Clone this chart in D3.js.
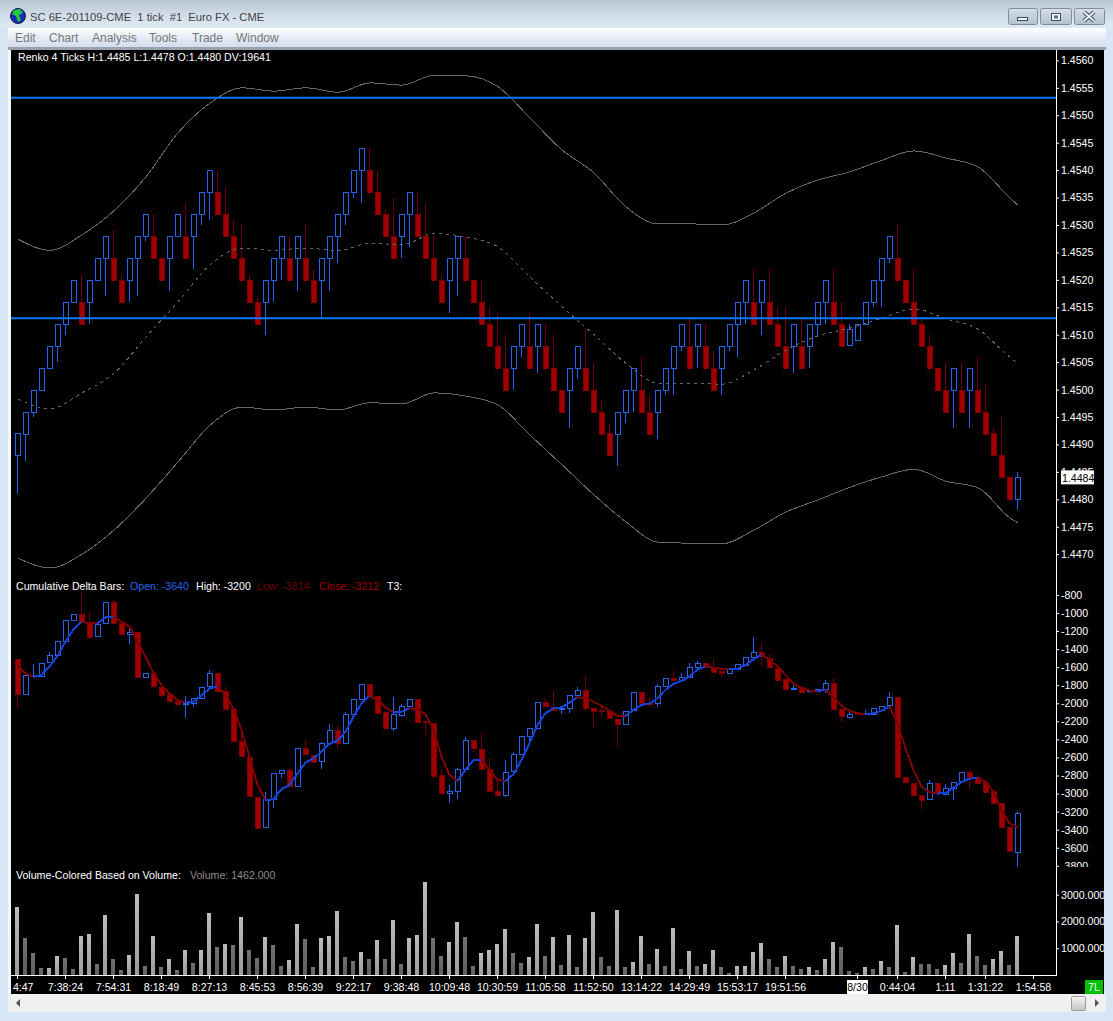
<!DOCTYPE html>
<html>
<head>
<meta charset="utf-8">
<script src="https://cdn.jsdelivr.net/npm/d3@7"></script>
<style>
  html, body { margin: 0; padding: 0; background: #d6e6f4; }
  svg { display: block; }
  text { font-family: "Liberation Sans", Arial, sans-serif; font-size: 10.6px; white-space: pre; }
</style>
</head>
<body>
<svg id="chart"></svg>
<script>
// renko 4 ticks, one entry per bar
const priceOpen = [
  1.4488,1.4492,1.4496,1.4500,1.4504,1.4508,1.4512,1.4516,1.4516,1.4516,
  1.4520,1.4524,1.4524,1.4520,1.4520,1.4524,1.4528,1.4528,1.4524,1.4524,
  1.4528,1.4528,1.4528,1.4532,1.4536,1.4536,1.4532,1.4528,1.4524,1.4520,
  1.4516,1.4516,1.4520,1.4524,1.4524,1.4524,1.4524,1.4520,1.4520,1.4524,
  1.4528,1.4532,1.4536,1.4540,1.4540,1.4536,1.4532,1.4528,1.4528,1.4532,
  1.4532,1.4528,1.4524,1.4520,1.4520,1.4524,1.4524,1.4520,1.4516,1.4512,
  1.4508,1.4504,1.4504,1.4508,1.4508,1.4508,1.4508,1.4504,1.4500,1.4500,
  1.4504,1.4504,1.4500,1.4496,1.4492,1.4492,1.4496,1.4500,1.4500,1.4496,
  1.4496,1.4500,1.4504,1.4508,1.4508,1.4508,1.4508,1.4504,1.4504,1.4508,
  1.4512,1.4516,1.4516,1.4516,1.4516,1.4512,1.4508,1.4508,1.4508,1.4508,
  1.4512,1.4516,1.4516,1.4512,1.4508,1.4509,1.4512,1.4516,1.4520,1.4524,
  1.4524,1.4520,1.4516,1.4512,1.4508,1.4504,1.4500,1.4500,1.4500,1.4500,
  1.4500,1.4496,1.4492,1.4488,1.4484,1.4480
];
const priceClose = [
  1.4492,1.4496,1.4500,1.4504,1.4508,1.4512,1.4516,1.4520,1.4512,1.4520,
  1.4524,1.4528,1.4520,1.4516,1.4524,1.4528,1.4532,1.4524,1.4520,1.4528,
  1.4532,1.4524,1.4532,1.4536,1.4540,1.4532,1.4528,1.4524,1.4520,1.4516,
  1.4512,1.4520,1.4524,1.4528,1.4520,1.4528,1.4520,1.4516,1.4524,1.4528,
  1.4532,1.4536,1.4540,1.4544,1.4536,1.4532,1.4528,1.4524,1.4532,1.4536,
  1.4528,1.4524,1.4520,1.4516,1.4524,1.4528,1.4520,1.4516,1.4512,1.4508,
  1.4504,1.4500,1.4508,1.4512,1.4504,1.4512,1.4504,1.4500,1.4496,1.4504,
  1.4508,1.4500,1.4496,1.4492,1.4488,1.4496,1.4500,1.4504,1.4496,1.4492,
  1.4500,1.4504,1.4508,1.4512,1.4504,1.4512,1.4504,1.4500,1.4508,1.4512,
  1.4516,1.4520,1.4512,1.4520,1.4512,1.4508,1.4504,1.4512,1.4504,1.4512,
  1.4516,1.4520,1.4512,1.4508,1.4511,1.4512,1.4516,1.4520,1.4524,1.4528,
  1.4520,1.4516,1.4512,1.4508,1.4504,1.4500,1.4496,1.4504,1.4496,1.4504,
  1.4496,1.4492,1.4488,1.4484,1.4480,1.4484
];
const priceHigh = [
  1.4492,1.4496,1.4500,1.4504,1.4508,1.4512,1.4516,1.4520,1.4521,1.4520,
  1.4524,1.4528,1.4529,1.4521,1.4524,1.4528,1.4532,1.4532,1.4524,1.4528,
  1.4532,1.4534,1.4532,1.4536,1.4540,1.4540,1.4537,1.4531,1.4530,1.4521,
  1.4517,1.4520,1.4524,1.4528,1.4528,1.4528,1.4530,1.4522,1.4524,1.4528,
  1.4532,1.4536,1.4540,1.4544,1.4544,1.4540,1.4533,1.4535,1.4532,1.4536,
  1.4536,1.4534,1.4528,1.4521,1.4524,1.4528,1.4528,1.4520,1.4520,1.4515,
  1.4514,1.4510,1.4508,1.4512,1.4514,1.4512,1.4512,1.4510,1.4500,1.4504,
  1.4508,1.4511,1.4505,1.4498,1.4494,1.4496,1.4500,1.4504,1.4506,1.4499,
  1.4500,1.4504,1.4508,1.4512,1.4513,1.4512,1.4512,1.4507,1.4508,1.4512,
  1.4516,1.4520,1.4522,1.4520,1.4522,1.4515,1.4515,1.4512,1.4513,1.4512,
  1.4516,1.4520,1.4522,1.4516,1.4512,1.4512,1.4516,1.4520,1.4524,1.4528,
  1.4530,1.4520,1.4522,1.4513,1.4510,1.4504,1.4505,1.4504,1.4505,1.4504,
  1.4506,1.4501,1.4493,1.4495,1.4484,1.4485
];
const priceLow = [
  1.4481,1.4487,1.4495,1.4500,1.4504,1.4505,1.4510,1.4516,1.4512,1.4512,
  1.4520,1.4517,1.4520,1.4516,1.4516,1.4517,1.4527,1.4524,1.4520,1.4518,
  1.4528,1.4524,1.4522,1.4530,1.4531,1.4532,1.4528,1.4524,1.4520,1.4516,
  1.4512,1.4510,1.4516,1.4520,1.4520,1.4518,1.4520,1.4516,1.4513,1.4518,
  1.4523,1.4530,1.4535,1.4534,1.4536,1.4532,1.4528,1.4524,1.4524,1.4526,
  1.4528,1.4524,1.4520,1.4516,1.4514,1.4517,1.4520,1.4516,1.4512,1.4508,
  1.4504,1.4500,1.4500,1.4506,1.4504,1.4503,1.4504,1.4500,1.4496,1.4493,
  1.4502,1.4500,1.4496,1.4492,1.4488,1.4486,1.4494,1.4496,1.4496,1.4492,
  1.4491,1.4499,1.4499,1.4507,1.4504,1.4504,1.4504,1.4500,1.4499,1.4507,
  1.4506,1.4512,1.4512,1.4510,1.4512,1.4508,1.4504,1.4503,1.4504,1.4504,
  1.4510,1.4512,1.4512,1.4508,1.4508,1.4509,1.4512,1.4515,1.4515,1.4523,
  1.4520,1.4516,1.4512,1.4508,1.4504,1.4500,1.4496,1.4493,1.4496,1.4493,
  1.4496,1.4492,1.4488,1.4484,1.4480,1.4478
];

// price bands, read every 4th bar
const bandBars = [0,4,8,12,16,20,24,28,32,36,40,44,48,52,56,60,64,68,72,76,80,84,88,92,96,100,104,108,112,116,120,124,125];
const bandUpper = [
  1.45274,1.45254,1.45282,1.45326,1.45388,1.45468,1.45522,1.45550,1.45544,1.45550,1.45542,
  1.45559,1.45555,1.45573,1.45572,1.45552,1.45495,1.45437,1.45395,1.45333,1.45302,1.45302,
  1.45300,1.45322,1.45358,1.45382,1.45397,1.45418,1.45435,1.45422,1.45406,1.45349,1.45336
];
const bandMiddle = [
  1.44983,1.44965,1.44994,1.45030,1.45096,1.45160,1.45227,1.45258,1.45254,1.45258,1.45253,
  1.45267,1.45264,1.45284,1.45278,1.45260,1.45205,1.45151,1.45100,1.45048,1.45012,1.45012,
  1.45010,1.45036,1.45072,1.45098,1.45112,1.45130,1.45147,1.45129,1.45110,1.45059,1.45048
];
const bandLower = [
  1.44693,1.44675,1.44700,1.44744,1.44802,1.44868,1.44935,1.44968,1.44963,1.44968,1.44963,
  1.44976,1.44974,1.44994,1.44988,1.44972,1.44917,1.44863,1.44808,1.44759,1.44722,1.44720,
  1.44719,1.44744,1.44777,1.44799,1.44822,1.44841,1.44855,1.44833,1.44821,1.44766,1.44757
];
const levelLines = [1.45532, 1.45130];

// cumulative delta
const deltaOpen = [
  -1514,-1905,-1695,-1691,-1551,-1470,-1315,-1082,-1016,-1097,-1263,-1115,-883,-1115,-1237,-1215,
  -1713,-1669,-1817,-1898,-1972,-2001,-1994,-1938,-1817,-1669,-1868,-2067,-2422,-2599,-3034,-3377,
  -3064,-2776,-2743,-2916,-2499,-2569,-2643,-2444,-2300,-2444,-2123,-1957,-1790,-1916,-2100,-2281,
  -2122,-2026,-1949,-2200,-2214,-2798,-2997,-2975,-2731,-2410,-2502,-2724,-2967,-3012,-2757,-2565,
  -2366,-2277,-1989,-2037,-2067,-2056,-1912,-1857,-2056,-2074,-2089,-2170,-2222,-2082,-1879,-1996,
  -2001,-1812,-1724,-1746,-1713,-1602,-1558,-1606,-1643,-1668,-1624,-1576,-1484,-1429,-1502,-1606,
  -1735,-1846,-1816,-1860,-1868,-1846,-1779,-2067,-2148,-2096,-2122,-2115,-2067,-2026,-1934,-2820,
  -2879,-3012,-3063,-2886,-2997,-2934,-2868,-2764,-2820,-2868,-2975,-3108,-3373,-3640
];
const deltaClose = [
  -1905,-1691,-1690,-1551,-1470,-1315,-1082,-1016,-1097,-1263,-1126,-883,-1115,-1237,-1215,-1713,
  -1669,-1817,-1905,-1972,-2001,-1994,-1938,-1817,-1669,-1868,-2067,-2422,-2591,-3034,-3377,-3064,
  -2776,-2743,-2916,-2499,-2569,-2643,-2444,-2300,-2444,-2123,-1957,-1791,-1916,-2100,-2281,-2122,
  -2026,-1949,-2200,-2214,-2798,-2997,-2975,-2731,-2410,-2502,-2724,-2967,-3012,-2757,-2565,-2366,
  -2277,-1989,-2037,-2074,-2052,-1912,-1857,-2056,-2089,-2078,-2170,-2222,-2082,-1879,-2001,-2001,
  -1812,-1724,-1746,-1713,-1602,-1558,-1602,-1646,-1668,-1624,-1569,-1484,-1429,-1477,-1606,-1735,
  -1846,-1831,-1868,-1856,-1846,-1779,-2067,-2148,-2115,-2122,-2111,-2048,-2026,-1934,-2820,-2879,
  -3012,-3071,-2886,-2997,-2934,-2868,-2764,-2820,-2886,-2975,-3108,-3373,-3640,-3212
];
const deltaHigh = [
  -1514,-1691,-1569,-1551,-1436,-1315,-1082,-1016,-783,-994,-1126,-883,-857,-1115,-1182,-1215,
  -1669,-1669,-1817,-1898,-1972,-1920,-1938,-1817,-1632,-1669,-1817,-2067,-2315,-2599,-3034,-2983,
  -2776,-2743,-2709,-2499,-2407,-2569,-2429,-2230,-2252,-2101,-1957,-1791,-1790,-1916,-2100,-1934,
  -2008,-1949,-1949,-2200,-2214,-2731,-2908,-2720,-2377,-2410,-2333,-2609,-2842,-2628,-2539,-2366,
  -2277,-1989,-1945,-1853,-2052,-1912,-1823,-1698,-2056,-2030,-2089,-2170,-2082,-1879,-1879,-1945,
  -1790,-1724,-1643,-1668,-1554,-1532,-1558,-1513,-1643,-1624,-1569,-1484,-1270,-1336,-1454,-1606,
  -1735,-1798,-1816,-1856,-1846,-1742,-1716,-2067,-2082,-2096,-2074,-2048,-2026,-1875,-1934,-2820,
  -2879,-3012,-2853,-2886,-2897,-2868,-2764,-2739,-2794,-2855,-2975,-3108,-3373,-3200
];
const deltaLow = [
  -2056,-1905,-1724,-1691,-1551,-1470,-1315,-1082,-1097,-1293,-1263,-1115,-1115,-1237,-1348,-1713,
  -1713,-1828,-1927,-1994,-2001,-2160,-2038,-1938,-1824,-1868,-2067,-2422,-2591,-3034,-3377,-3377,
  -3156,-2828,-2916,-2916,-2569,-2643,-2728,-2444,-2507,-2444,-2123,-1957,-1916,-2100,-2281,-2303,
  -2148,-2026,-2200,-2351,-2834,-2997,-3100,-3060,-2731,-2536,-2724,-2967,-3012,-3034,-2757,-2565,
  -2473,-2277,-2037,-2074,-2119,-2104,-1912,-2082,-2259,-2155,-2170,-2488,-2222,-2082,-2001,-2045,
  -2045,-1812,-1746,-1746,-1713,-1602,-1602,-1661,-1705,-1668,-1624,-1576,-1484,-1584,-1606,-1735,
  -1846,-1846,-1868,-1890,-1868,-1882,-2067,-2203,-2148,-2122,-2122,-2115,-2067,-2026,-2820,-2879,
  -3012,-3167,-3063,-2997,-2997,-3071,-2868,-2960,-2886,-2975,-3108,-3373,-3640,-3814
];
const deltaT3 = [
  -1577,-1669,-1706,-1687,-1595,-1477,-1318,-1182,-1097,-1115,-1115,-1049,-1042,-1097,-1152,-1318,
  -1484,-1662,-1798,-1890,-1964,-1994,-1983,-1916,-1835,-1817,-1909,-2056,-2296,-2591,-2905,-3071,
  -3064,-2949,-2905,-2776,-2658,-2610,-2536,-2451,-2414,-2315,-2149,-2001,-1920,-1964,-2045,-2100,
  -2093,-2056,-2067,-2122,-2296,-2591,-2794,-2860,-2739,-2628,-2628,-2739,-2849,-2860,-2786,-2628,
  -2443,-2240,-2111,-2056,-2045,-1993,-1934,-1945,-1982,-2030,-2082,-2141,-2141,-2074,-2019,-2001,
  -1945,-1853,-1786,-1750,-1705,-1624,-1595,-1606,-1620,-1620,-1617,-1576,-1513,-1465,-1513,-1595,
  -1687,-1779,-1834,-1860,-1860,-1853,-1934,-2030,-2085,-2111,-2119,-2111,-2082,-2037,-2222,-2499,
  -2739,-2923,-2986,-3000,-2997,-2934,-2875,-2834,-2831,-2868,-2978,-3181,-3329,-3373
];

const volumes = [
  2550,1388,825,262,270,712,638,225,1462,1538,412,2250,600,188,750,3038,
  338,1462,300,600,188,938,450,938,2325,1050,1162,1125,2175,938,638,1425,
  1125,338,562,1912,1350,300,1388,1462,2400,675,525,862,600,1312,600,2062,
  412,1388,1500,3488,1388,712,1238,1988,1425,338,825,938,1162,1725,825,450,
  675,1912,712,1425,375,1500,300,1388,2362,675,338,2438,300,488,1462,412,
  975,338,1762,225,900,338,412,938,300,75,338,338,862,1200,600,300,
  712,338,225,300,188,600,1238,1050,150,75,300,225,525,300,1875,112,
  675,412,400,225,375,825,450,1538,712,375,600,900,375,1462
];

const priceTicks = [1.4470,1.4475,1.4480,1.4485,1.4490,1.4495,1.4500,1.4505,1.4510,1.4515,1.4520,1.4525,1.4530,1.4535,1.4540,1.4545,1.4550,1.4555,1.4560];
const deltaTicks = [-800,-1000,-1200,-1400,-1600,-1800,-2000,-2200,-2400,-2600,-2800,-3000,-3200,-3400,-3600,-3800];
const volumeTicks = [1000,2000,3000];
const timeBars = [0,6,12,18,24,30,36,42,48,54,60,66,72,78,84,90,96,105,110,116,121,127];
const timeLabels = ["4:47","7:38:24","7:54:31","8:18:49","8:27:13","8:45:53","8:56:39","9:22:17","9:38:48","10:09:48","10:30:59","11:05:58","11:52:50","13:14:22","14:29:49","15:53:17","19:51:56","8/30","0:44:04","1:11","1:31:22","1:54:58"];
const menuItems = ["Edit","Chart","Analysis","Tools","Trade","Window"];
const menuX = [15,49,92,149,192,236];

const width = 1113;
const height = 1021;
const axisX = 1056;
const axisY = 975;
const bars = d3.range(priceOpen.length);

const blue = "#2563f0";
const wickRed = "#6e0000";
const bodyRed = "#a00000";

let svg = d3.select("#chart").attr("width", width).attr("height", height);
let defs = svg.append("defs");

function gradient(id, stops) {
    let g = defs.append("linearGradient").attr("id", id).attr("x2", 0).attr("y2", 1);
    stops.forEach((c, i) => g.append("stop").attr("offset", i / (stops.length - 1)).attr("stop-color", c));
}
gradient("titleGrad", ["#bac7d3", "#cfdce8", "#dfeaf5"]);
gradient("menuGrad", ["#ffffff", "#e6ebf6", "#d4dcec"]);
gradient("btnGrad", ["#d6e0ea", "#c2cfdc", "#b4c2d0"]);
gradient("thumbGrad", ["#f4f4f4", "#dcdcdc", "#c4c4c4"]);
gradient("volLight", ["#bcbcbc", "#9c9c9c"]);
gradient("volDark", ["#727272", "#5e5e5e"]);

defs.append("clipPath").attr("id", "chartClip").append("rect")
    .attr("x", 11).attr("y", 50).attr("width", 1093).attr("height", 944);
defs.append("clipPath").attr("id", "deltaClip").append("rect")
    .attr("x", 11).attr("y", 575).attr("width", 1093).attr("height", 292);

// window frame
svg.append("rect").attr("width", width).attr("height", height).attr("fill", "#d6e6f4");
svg.append("rect").attr("width", width).attr("height", 28).attr("fill", "url(#titleGrad)");
svg.append("rect").attr("x", 8).attr("y", 28).attr("width", 1098).attr("height", 19).attr("fill", "url(#menuGrad)");
svg.append("rect").attr("x", 8).attr("y", 47).attr("width", 1098).attr("height", 3).attr("fill", "#9aa2ae");
svg.append("rect").attr("x", 8).attr("y", 50).attr("width", 3).attr("height", 962).attr("fill", "#f4f6f8");

// globe icon
svg.append("circle").attr("cx", 18).attr("cy", 16).attr("r", 7.5).attr("fill", "#1c2ab8").attr("stroke", "#101a50");
svg.append("path").attr("d", "M14 10 L20 9 L23 13 L19 15 L21 20 L18 22 L16 16 L12 14 Z").attr("fill", "#22c83a");

svg.append("text").attr("x", 30).attr("y", 21)
    .style("font-size", "11.2px").attr("fill", "#444")
    .text("SC 6E-201109-CME  1 tick  #1  Euro FX - CME");

svg.selectAll(".menu").data(menuItems).enter().append("text")
    .attr("class", "menu")
    .attr("x", (d, i) => menuX[i])
    .attr("y", 42)
    .style("font-size", "12px")
    .attr("fill", "#777")
    .text(d => d);

// title bar buttons
[[1008, 29], [1040, 31], [1074, 30]].forEach(b => {
    svg.append("rect").attr("x", b[0] + .5).attr("y", 8.5).attr("width", b[1]).attr("height", 16).attr("rx", 2)
        .attr("fill", "url(#btnGrad)").attr("stroke", "#7e8c9c");
});
svg.append("rect").attr("x", 1017.5).attr("y", 17.5).attr("width", 10).attr("height", 3).attr("fill", "#eef2f6").attr("stroke", "#3e4c5c");
svg.append("rect").attr("x", 1051.5).attr("y", 13.5).attr("width", 9).attr("height", 7).attr("fill", "#eef2f6").attr("stroke", "#3e4c5c").attr("stroke-width", 1);
svg.append("rect").attr("x", 1054).attr("y", 15.5).attr("width", 4).attr("height", 3).attr("fill", "#5e6c7c");
svg.append("path").attr("d", "M1084 12 L1094 21 M1094 12 L1084 21").attr("stroke", "#3e4c5c").attr("stroke-width", 4);
svg.append("path").attr("d", "M1084 12 L1094 21 M1094 12 L1084 21").attr("stroke", "#eef2f6").attr("stroke-width", 2);

// black chart area
svg.append("rect").attr("x", 11).attr("y", 50).attr("width", 1093).attr("height", 944).attr("fill", "#000");

// scales
let x = d3.scaleLinear().domain([0, 125]).range([18, 1018]);
let priceY = d3.scaleLinear().domain([1.4470, 1.4560]).range([554.2, 60.4]);
let deltaY = d3.scaleLinear().domain([-800, -3800]).range([594.9, 865.8]);
let volumeY = d3.scaleLinear().domain([0, 3000]).range([axisY, 894.6]);

function drawCandles(group, yScale, open, close, high, low) {
    group.selectAll(".wick").data(bars).enter().append("line")
        .attr("class", "wick")
        .attr("x1", i => x(i) - .5)
        .attr("x2", i => x(i) - .5)
        .attr("y1", i => Math.round(yScale(high[i])))
        .attr("y2", i => Math.round(yScale(low[i])))
        .attr("stroke", i => close[i] >= open[i] ? blue : wickRed);

    group.selectAll(".body").data(bars).enter().append("rect")
        .attr("class", "body")
        .attr("shape-rendering", "crispEdges")
        .attr("x", i => x(i) - 2.5)
        .attr("y", i => Math.round(yScale(Math.max(open[i], close[i]))) + .5)
        .attr("width", 5)
        .attr("height", i => Math.max(1, Math.round(yScale(Math.min(open[i], close[i])) - yScale(Math.max(open[i], close[i])))))
        .attr("fill", i => close[i] >= open[i] ? "#000" : bodyRed)
        .attr("stroke", i => close[i] >= open[i] ? blue : "#7c0000");
}

// price pane
let pricePane = svg.append("g").attr("clip-path", "url(#chartClip)");

let bandLine = d3.line()
    .x((d, i) => x(bandBars[i]))
    .y(d => priceY(d))
    .curve(d3.curveMonotoneX);

[bandUpper, bandLower].forEach(band => {
    pricePane.append("path").attr("d", bandLine(band))
        .attr("fill", "none").attr("stroke", "#666").attr("stroke-width", 1)
        .attr("shape-rendering", "crispEdges");
});

drawCandles(pricePane.append("g"), priceY, priceOpen, priceClose, priceHigh, priceLow);

pricePane.append("path").attr("d", bandLine(bandMiddle))
    .attr("fill", "none").attr("stroke", "#666").attr("stroke-width", 1).attr("stroke-dasharray", "3 4")
    .attr("shape-rendering", "crispEdges");

pricePane.selectAll(".level").data(levelLines).enter().append("line")
    .attr("class", "level")
    .attr("x1", 11).attr("x2", axisX)
    .attr("y1", d => priceY(d)).attr("y2", d => priceY(d))
    .attr("stroke", "#0a78ff").attr("stroke-width", 2);

// delta pane
let deltaPane = svg.append("g").attr("clip-path", "url(#deltaClip)");
drawCandles(deltaPane.append("g"), deltaY, deltaOpen, deltaClose, deltaHigh, deltaLow);

// T3 line changes colour with its direction
let t3Rising = true;
deltaPane.selectAll(".t3").data(d3.pairs(bars)).enter().append("line")
    .attr("class", "t3")
    .attr("x1", d => x(d[0]) - .5)
    .attr("x2", d => x(d[1]) - .5)
    .attr("y1", d => deltaY(deltaT3[d[0]]))
    .attr("y2", d => deltaY(deltaT3[d[1]]))
    .attr("stroke-width", 2)
    .attr("stroke-linecap", "round")
    .attr("shape-rendering", "crispEdges")
    .attr("stroke", d => {
        if (deltaT3[d[1]] != deltaT3[d[0]]) t3Rising = deltaT3[d[1]] > deltaT3[d[0]];
        return t3Rising ? "#1243d6" : "#800000";
    });

// volume pane
svg.append("g").selectAll("rect").data(bars).enter().append("rect")
    .attr("shape-rendering", "crispEdges")
    .attr("x", i => x(i) - 3)
    .attr("y", i => volumeY(volumes[i]))
    .attr("width", 4)
    .attr("height", i => axisY - volumeY(volumes[i]))
    .attr("fill", i => (i == 0 || volumes[i] >= volumes[i - 1]) ? "url(#volLight)" : "url(#volDark)");

// axes
function styleAxis(g) {
    g.select(".domain").remove();
    g.selectAll("line").attr("stroke", "#fff");
    g.selectAll("text").attr("fill", "#fff").style("font-family", "'Liberation Sans', Arial, sans-serif").style("font-size", "10.6px");
}

let rightAxes = svg.append("g").attr("clip-path", "url(#chartClip)");

rightAxes.append("g").attr("transform", "translate(" + axisX + ",0)")
    .call(d3.axisRight(priceY).tickValues(priceTicks).tickFormat(d3.format(".4f")).tickSize(3).tickPadding(2))
    .call(styleAxis);

// the clip has to sit on an outer group, the axis group is translated
rightAxes.append("g").attr("clip-path", "url(#deltaClip)")
    .append("g").attr("transform", "translate(" + axisX + ",0)")
    .call(d3.axisRight(deltaY).tickValues(deltaTicks).tickFormat(d => "-" + Math.abs(d)).tickSize(3).tickPadding(2))
    .call(styleAxis);

rightAxes.append("g").attr("transform", "translate(" + axisX + ",0)")
    .call(d3.axisRight(volumeY).tickValues(volumeTicks).tickFormat(d3.format(".3f")).tickSize(3).tickPadding(2))
    .call(styleAxis);

// last price flag
let lastPrice = priceClose[priceClose.length - 1];
rightAxes.append("rect").attr("x", 1061).attr("y", priceY(lastPrice) - 7).attr("width", 33).attr("height", 14).attr("fill", "#fff");
rightAxes.append("text").attr("x", 1062).attr("y", priceY(lastPrice) + 4.5).attr("fill", "#000").text(d3.format(".4f")(lastPrice));

// date flag under the time axis
svg.append("rect").attr("x", x(timeBars[17]) - 11).attr("y", 980).attr("width", 21).attr("height", 14).attr("fill", "#fff");

let timeAxis = svg.append("g").attr("transform", "translate(-1," + axisY + ")")
    .call(d3.axisBottom(x).tickValues(timeBars).tickFormat((d, i) => timeLabels[i]).tickSize(4).tickPadding(4))
    .call(styleAxis);
timeAxis.selectAll("text").filter(d => d == 105).attr("fill", "#000");
timeAxis.selectAll("text").filter(d => d == 0).attr("text-anchor", "end").attr("dx", 16);

svg.append("line").attr("x1", axisX + .5).attr("x2", axisX + .5).attr("y1", 50).attr("y2", axisY + 1).attr("stroke", "#fff");
svg.append("line").attr("x1", 11).attr("x2", axisX + 1).attr("y1", axisY + .5).attr("y2", axisY + .5).attr("stroke", "#fff");

// pane captions
svg.append("text").attr("x", 18).attr("y", 61).attr("fill", "#fff").text("Renko 4 Ticks H:1.4485 L:1.4478 O:1.4480 DV:19641");
svg.append("text").attr("x", 16).attr("y", 590).attr("fill", "#fff").text("Cumulative Delta Bars:");
svg.append("text").attr("x", 130).attr("y", 590).attr("fill", blue).text("Open: -3640");
svg.append("text").attr("x", 196).attr("y", 590).attr("fill", "#fff").text("High: -3200");
svg.append("text").attr("x", 257).attr("y", 590).attr("fill", "#6e0000").text("Low: -3814");
svg.append("text").attr("x", 319).attr("y", 590).attr("fill", "#a00000").text("Close: -3212");
svg.append("text").attr("x", 387).attr("y", 590).attr("fill", "#fff").text("T3:");
svg.append("text").attr("x", 16).attr("y", 879).attr("fill", "#fff").text("Volume-Colored Based on Volume:");
svg.append("text").attr("x", 190).attr("y", 879).attr("fill", "#8c8c8c").text("Volume: 1462.000");

// scrollbar and status box
svg.append("rect").attr("x", 8).attr("y", 994).attr("width", 1098).attr("height", 18).attr("fill", "#f0f0f0");
svg.append("path").attr("d", "M16 1003 L20 999 L20 1007 Z").attr("fill", "#555");
svg.append("rect").attr("x", 1071.5).attr("y", 996.5).attr("width", 14).attr("height", 14).attr("rx", 1)
    .attr("fill", "url(#thumbGrad)").attr("stroke", "#9a9a9a");
svg.append("path").attr("d", "M1099 1003 L1095 999 L1095 1007 Z").attr("fill", "#555");
svg.append("rect").attr("x", 1085).attr("y", 980).attr("width", 18).attr("height", 14).attr("fill", "#00c000");
svg.append("text").attr("x", 1094).attr("y", 991).attr("text-anchor", "middle").attr("fill", "#fff").text("7L");
</script>
</body>
</html>
